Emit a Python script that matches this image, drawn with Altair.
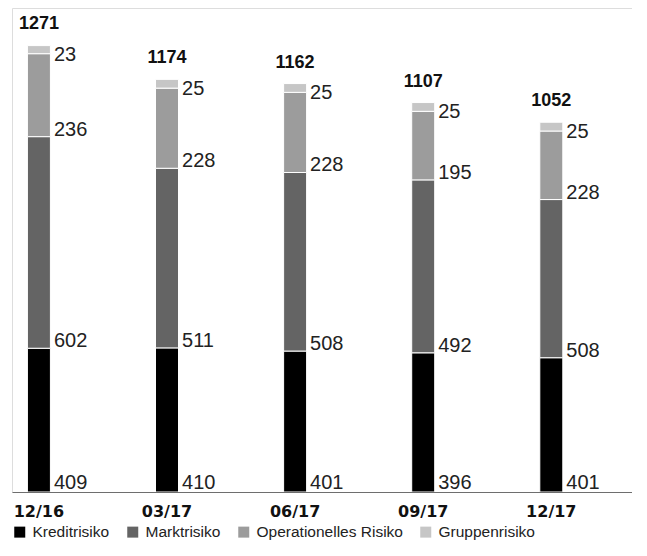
import altair as alt
import pandas as pd

dates = ["12/16", "03/17", "06/17", "09/17", "12/17"]
series = ["Kreditrisiko", "Marktrisiko", "Operationelles Risiko", "Gruppenrisiko"]
colors = ["#000000", "#646464", "#9c9c9c", "#c6c6c6"]

# bar segment sizes
kredit = [409, 410, 401, 396, 382]
markt = [602, 511, 508, 492, 450]
oper = [236, 228, 228, 195, 195]
gruppe = [23, 25, 25, 25, 25]

# printed numbers
kredit_labels = [409, 410, 401, 396, 401]
markt_labels = [602, 511, 508, 492, 508]
oper_labels = [236, 228, 228, 195, 228]
gruppe_labels = [23, 25, 25, 25, 25]
totals = [1271, 1174, 1162, 1107, 1052]

rows = []
for si, (name, vals, labs) in enumerate(zip(
        series,
        [kredit, markt, oper, gruppe],
        [kredit_labels, markt_labels, oper_labels, gruppe_labels])):
    for d, v, l in zip(dates, vals, labs):
        rows.append({"date": d, "series": name, "order": si, "value": v, "label": l})
df = pd.DataFrame(rows)
tot_df = pd.DataFrame({"date": dates, "total": totals})

FONT = "Liberation Sans"
ydom = alt.Scale(domain=[0, 1377], nice=False, zero=True)

x_enc = alt.X(
    "date:N", sort=dates,
    scale=alt.Scale(paddingInner=0.8, paddingOuter=0.32, align=0.172),
    axis=alt.Axis(title=None, ticks=False, labelAngle=0, labelFont="DejaVu Sans",
                  labelFontWeight="bold", labelFontSize=16, labelColor="#111111",
                  labelPadding=11, domainColor="#6e6e6e", domainWidth=1, zindex=1),
)

base = alt.Chart(df)

bars = base.mark_bar(width=23, stroke="white", strokeWidth=1).encode(
    x=x_enc,
    y=alt.Y("value:Q", stack="zero", scale=ydom, axis=None),
    color=alt.Color(
        "series:N",
        scale=alt.Scale(domain=series, range=colors),
        legend=alt.Legend(title=None, orient="none", legendX=0, legendY=516,
                          direction="horizontal", symbolType="square",
                          symbolSize=121, symbolStrokeWidth=0, symbolOpacity=1,
                          labelFont=FONT, labelFontSize=15.5, labelColor="#222222",
                          columnPadding=15, labelOffset=5, padding=0),
    ),
    order=alt.Order("order:Q", sort="ascending"),
)

stacked = base.transform_stack(
    stack="value", groupby=["date"], as_=["y0", "y1"],
    sort=[alt.SortField("order", order="ascending")],
)

txt = dict(align="left", baseline="alphabetic", dx=15, font=FONT, fontSize=20,
           color="#222222")

lab_bottom = stacked.transform_filter("datum.order == 0").mark_text(dy=-3, **txt).encode(
    x=alt.X("date:N", sort=dates), y=alt.Y("y0:Q", scale=ydom, axis=None), text="label:Q")
lab_mid = stacked.transform_filter("datum.order == 1 || datum.order == 2").mark_text(dy=-1, **txt).encode(
    x=alt.X("date:N", sort=dates), y=alt.Y("y0:Q", scale=ydom, axis=None), text="label:Q")
lab_top = stacked.transform_filter("datum.order == 3").mark_text(dy=15.5, **txt).encode(
    x=alt.X("date:N", sort=dates), y=alt.Y("y1:Q", scale=ydom, axis=None), text="label:Q")

tot = alt.Chart(tot_df).mark_text(align="center", baseline="alphabetic", dy=-16,
                                  font=FONT, fontWeight="bold", fontSize=18,
                                  color="#111111").encode(
    x=alt.X("date:N", sort=dates), y=alt.Y("total:Q", scale=ydom, axis=None),
    text="total:Q")

chart = alt.layer(bars, lab_bottom, lab_mid, lab_top, tot).properties(
    width=620, height=484,
    autosize=alt.AutoSizeParams(type="none"),
    padding={"left": 4, "top": 0, "right": 0, "bottom": 51},
).configure_view(stroke=None).configure(background="white")

chart.save("out.html", embed_options={"renderer": "svg", "actions": False})
